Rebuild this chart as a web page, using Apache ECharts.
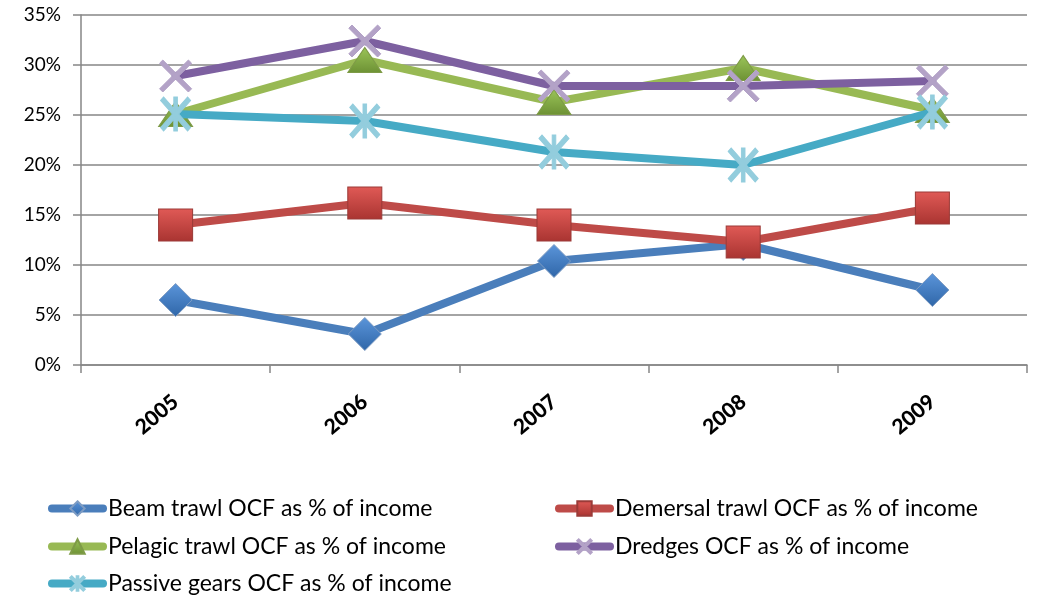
<!DOCTYPE html>
<html>
<head>
<meta charset="utf-8">
<script src="https://cdn.jsdelivr.net/npm/echarts@6/dist/echarts.min.js"></script>
<style>
html,body{margin:0;padding:0;background:#fff;}
#chart{width:1044px;height:598px;}
</style>
</head>
<body>
<div id="chart"></div>
<script>
const years = ['2005', '2006', '2007', '2008', '2009'];
const yTicks = [0, 5, 10, 15, 20, 25, 30, 35];
const beamTrawl = [6.5, 3.1, 10.4, 12.1, 7.5];
const demersalTrawl = [14.0, 16.2, 14.0, 12.3, 15.7];
const pelagicTrawl = [25.1, 30.5, 26.3, 29.7, 25.5];
const dredges = [28.9, 32.4, 27.9, 27.9, 28.4];
const passiveGears = [25.1, 24.4, 21.3, 20.0, 25.3];

const names = [
  'Beam trawl OCF as % of income',
  'Demersal trawl OCF as % of income',
  'Pelagic trawl OCF as % of income',
  'Dredges OCF as % of income',
  'Passive gears OCF as % of income'
];

const X_PATH = 'path://M0,1L1,0L5,4L9,0L10,1L6,5L10,9L9,10L5,6L1,10L0,9L4,5Z';
const STAR_PATH = 'path://M0,1L1,0L5,4L9,0L10,1L6,5L10,9L9,10L5,6L1,10L0,9L4,5Z M4.4,0L5.6,0L5.6,10L4.4,10Z';

function grad(c1, c2) {
  return new echarts.graphic.LinearGradient(0, 0, 0, 1, [
    {offset: 0, color: c1}, {offset: 1, color: c2}
  ]);
}

const FONT = 'Lato, "Open Sans", sans-serif';

const seriesDefs = [
  {data: beamTrawl, line: '#4A7EBB', symbol: 'diamond', size: 33,
   fill: grad('#5B95DA', '#2F66A8'), border: '#7E9CC3'},
  {data: demersalTrawl, line: '#BE4B48', symbol: 'rect', size: [34, 32],
   fill: grad('#E05A56', '#A93431'), border: '#9B3B38'},
  {data: pelagicTrawl, line: '#98B954', symbol: 'triangle', size: [34, 25],
   fill: grad('#9BC559', '#6D9134'), border: '#7E9B47'},
  {data: dredges, line: '#7D60A0', symbol: X_PATH, size: 32,
   fill: '#B3A2C7', border: '#B3A2C7'},
  {data: passiveGears, line: '#46AAC5', symbol: STAR_PATH, size: [30, 34],
   fill: '#93CDDD', border: '#93CDDD'}
];

const series = seriesDefs.map((d, i) => ({
  name: names[i],
  type: 'line',
  data: d.data,
  symbol: d.symbol,
  symbolSize: d.size,
  showAllSymbol: true,
  lineStyle: {color: d.line, width: 8, cap: 'round', join: 'round'},
  itemStyle: {color: d.fill, borderColor: d.border, borderWidth: 1, opacity: 1},
  emphasis: {disabled: true},
  animation: false,
  z: 2 + i
}));

const legendPos = [
  {left: 48, top: 497},
  {left: 555, top: 497},
  {left: 48, top: 535},
  {left: 555, top: 535},
  {left: 48, top: 572}
];

const legends = names.map((n, i) => ({
  data: [n],
  left: legendPos[i].left,
  top: legendPos[i].top,
  padding: 0,
  itemWidth: 51,
  itemHeight: 18,
  itemGap: 0,
  selectedMode: false,
  lineStyle: {width: 8, cap: 'round'},
  textStyle: {fontFamily: FONT, fontSize: 23, color: '#000'}
}));

const chart = echarts.init(document.getElementById('chart'), null, {renderer: 'canvas'});
chart.setOption({
  animation: false,
  backgroundColor: '#fff',
  grid: {left: 81, right: 17, top: 15, bottom: 233, containLabel: false},
  legend: legends,
  xAxis: {
    type: 'category',
    data: years,
    boundaryGap: true,
    axisLine: {lineStyle: {color: '#868686', width: 1.5}},
    axisTick: {show: true, length: 8, lineStyle: {color: '#868686', width: 1.5}},
    axisLabel: {rotate: 40, margin: 34, fontFamily: FONT, fontWeight: 900, fontSize: 21, color: '#000'},
    splitLine: {show: false}
  },
  yAxis: {
    type: 'value',
    min: yTicks[0],
    max: yTicks[yTicks.length - 1],
    interval: 5,
    axisLine: {show: true, lineStyle: {color: '#868686', width: 1.5}},
    axisTick: {show: true, length: 8, lineStyle: {color: '#868686', width: 1.5}},
    axisLabel: {formatter: v => v + '%', margin: 20, fontFamily: FONT, fontSize: 19, color: '#000'},
    splitLine: {show: true, lineStyle: {color: '#868686', width: 1.5}}
  },
  series: series
});
</script>
</body>
</html>
